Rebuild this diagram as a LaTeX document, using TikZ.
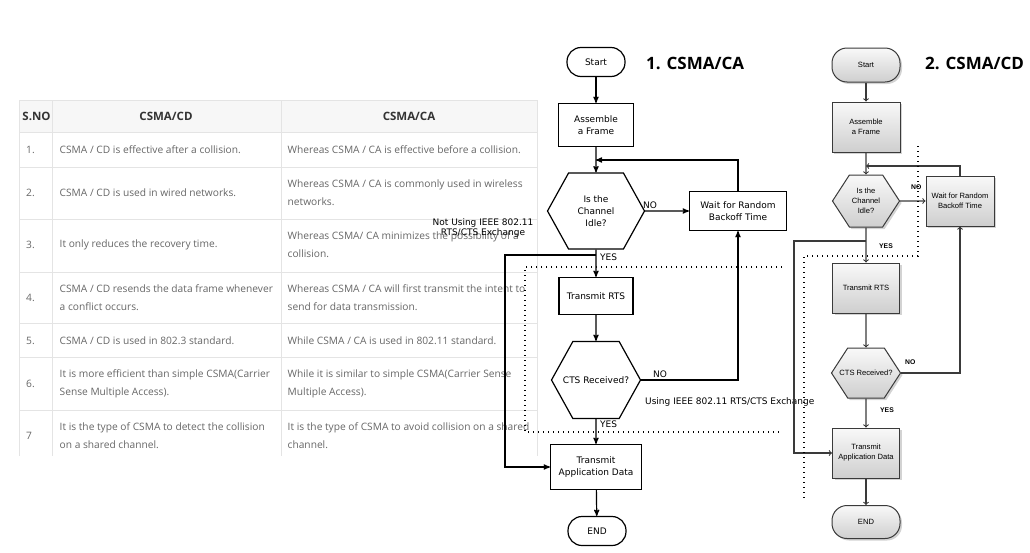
\documentclass[tikz,border=0pt]{standalone}
\usepackage{fontspec}
\setmainfont{Open Sans}
\newfontfamily\flowfont{DejaVu Sans}
\newfontfamily\cdfont{Liberation Sans}
\usetikzlibrary{arrows,shapes.symbols,shadows}

\definecolor{tabline}{HTML}{E4E4E4}
\definecolor{tabfill}{HTML}{F7F7F7}
\definecolor{tabtext}{HTML}{666666}
\definecolor{headtext}{HTML}{333333}
\definecolor{cdline}{HTML}{3A3A3A}

\tikzset{
  cell/.style={anchor=west, align=left, inner sep=0pt, text=tabtext, font=\fontsize{10.2}{18}\selectfont},
  headcell/.style={inner sep=0pt, text=headtext, font=\fontsize{11.5}{12}\selectfont\bfseries},
  title/.style={anchor=west, inner sep=0pt, font=\fontsize{17}{18}\selectfont\bfseries},
  cabox/.style={draw, line width=1.2pt, fill=white, align=center, inner sep=1pt, font=\flowfont\fontsize{9}{12}\selectfont},
  caterm/.style={cabox, rounded corners=14pt},
  cahex/.style={cabox, shape=signal, signal to=east and west, signal pointer angle=122},
  calabel/.style={inner sep=0pt, font=\flowfont\fontsize{9}{10}\selectfont},
  caline/.style={line width=1.2pt, -stealth'},
  cdbox/.style={draw=cdline, line width=1pt, top color=gray!5, bottom color=gray!38, drop shadow={shadow xshift=2pt, shadow yshift=-2pt, opacity=.35}, align=center, inner sep=1pt, font=\cdfont\fontsize{7.6}{10}\selectfont},
  cdterm/.style={cdbox, rounded corners=15pt},
  cdhex/.style={cdbox, shape=signal, signal to=east and west, signal pointer angle=114},
  cdlabel/.style={anchor=west, inner sep=0pt, font=\cdfont\fontsize{6.8}{8}\selectfont\bfseries},
  cdarrow/.style={draw=cdline, line width=1.1pt, ->},
  dotline/.style={line width=1.4pt, dash pattern=on 1.4pt off 3.6pt},
}

\begin{document}
\begin{tikzpicture}[x=1pt, y=-1pt]
\useasboundingbox (0,0) rectangle (1030,552);

% comparison table
\fill[tabfill] (19,100) rectangle (537,132);
\foreach \y in {100,132,167,219,272,323,357,410}
    \draw[tabline] (19,\y) -- (537,\y);
\foreach \x in {19,52,281,537}
    \draw[tabline] (\x,100) -- (\x,456);
\node[headcell] (hNo) at (36.5,116) {S.NO};
\node[headcell] (hCD) at (166,116) {CSMA/CD};
\node[headcell] (hCA) at (409,116) {CSMA/CA};
\foreach \r/\n/\y/\a/\b in {
    1/{1.}/149.5/{CSMA / CD is effective after a collision.}/{Whereas CSMA / CA is effective before a collision.},
    2/{2.}/193/{CSMA / CD is used in wired networks.}/{Whereas CSMA / CA is commonly used in wireless\\networks.},
    3/{3.}/244.5/{It only reduces the recovery time.}/{Whereas CSMA/ CA minimizes the possibility of a\\collision.},
    4/{4.}/297.5/{CSMA / CD resends the data frame whenever\\a conflict occurs.}/{Whereas CSMA / CA will first transmit the intent to\\send for data transmission.},
    5/{5.}/340.5/{CSMA / CD is used in 802.3 standard.}/{While CSMA / CA is used in 802.11 standard.},
    6/{6.}/384/{It is more efficient than simple CSMA(Carrier\\Sense Multiple Access).}/{While it is similar to simple CSMA(Carrier Sense\\Multiple Access).},
    7/{7}/435.5/{It is the type of CSMA to detect the collision\\on a shared channel.}/{It is the type of CSMA to avoid collision on a shared\\channel.}}
{
    \node[cell] (no\r) at (26,\y) {\n};
    \node[cell] (cd\r) at (59.5,\y) {\a};
    \node[cell] (ca\r) at (287.5,\y) {\b};
}

% 1. CSMA/CA
\node[title] (titleCA) at (646,63) {1. CSMA/CA};
\node[caterm, minimum width=58, minimum height=29] (startCA) at (596,62) {Start};
\node[cabox, minimum width=75, minimum height=43] (frameCA) at (596,125) {Assemble\\a Frame};
\node[cahex, minimum width=97, minimum height=76] (idleCA) at (596,211) {Is the\\Channel\\Idle?};
\node[cabox, minimum width=97, minimum height=39] (waitCA) at (738,211) {Wait for Random\\Backoff Time};
\node[cabox, minimum width=74, minimum height=37] (rtsCA) at (596,296) {Transmit RTS};
\node[cahex, minimum width=89, minimum height=77] (ctsCA) at (596,380) {\makebox[30pt]{CTS Received?}};
\node[cabox, minimum width=91, minimum height=45] (dataCA) at (596,467) {Transmit\\Application Data};
\node[caterm, minimum width=58, minimum height=29] (endCA) at (597,531) {END};
\coordinate (loopCA) at (596,160);
\coordinate (forkCA) at (596,255);

\draw[caline] (startCA) -- (frameCA);
\draw[caline] (frameCA) -- (idleCA);
\draw[caline] (waitCA) |- (loopCA);
\draw[caline] (idleCA) -- (waitCA);
\draw[caline] (idleCA) -- (rtsCA);
\draw[caline] (forkCA) -- ++(-91,0) |- (dataCA);
\draw[caline] (rtsCA) -- (ctsCA);
\draw[caline] (ctsCA) -| (waitCA);
\draw[caline] (ctsCA) -- (dataCA);
\draw[caline] (dataCA) -- (endCA);

\node[calabel, anchor=west] (noCA1) at (643,205) {NO};
\node[calabel, anchor=west] (yesCA1) at (600,257) {YES};
\node[calabel, anchor=west] (noCA2) at (653,374) {NO};
\node[calabel, anchor=west] (yesCA2) at (600,424) {YES};
\node[calabel, anchor=west] (usingRTS) at (645,402) {Using IEEE 802.11 RTS/CTS Exchange};
\node[calabel, align=center] (notRTS) at (483,228) {Not Using IEEE 802.11\\RTS/CTS Exchange};

\draw[dotline] (782,267) -- (525,267) -- (525,432) -- (782,432);

% 2. CSMA/CD
\node[title] (titleCD) at (925,63) {2. CSMA/CD};
\node[cdterm, minimum width=68, minimum height=34] (startCD) at (866,65) {Start};
\node[cdbox, minimum width=68, minimum height=50] (frameCD) at (866,127) {Assemble\\a Frame};
\node[cdhex, minimum width=67, minimum height=52] (idleCD) at (866,201) {Is the\\Channel\\Idle?};
\node[cdbox, minimum width=68, minimum height=50] (waitCD) at (960,201) {Wait for Random\\Backoff Time};
\node[cdbox, minimum width=67, minimum height=50] (rtsCD) at (866,288) {Transmit RTS};
\node[cdhex, minimum width=69, minimum height=50] (ctsCD) at (866,373) {\makebox[20pt]{CTS Received?}};
\node[cdbox, minimum width=67, minimum height=50] (dataCD) at (866,453) {Transmit\\Application Data};
\node[cdterm, minimum width=68, minimum height=33] (endCD) at (866,522) {END};
\coordinate (loopCD) at (866,166);
\coordinate (forkCD) at (866,241);

\draw[cdarrow] (startCD) -- (frameCD);
\draw[cdarrow] (frameCD) -- (idleCD);
\draw[cdarrow] (waitCD) |- (loopCD);
\draw[cdarrow] (idleCD) -- (waitCD);
\draw[cdarrow] (idleCD) -- (rtsCD);
\draw[cdarrow] (forkCD) -- ++(-72,0) |- (dataCD);
\draw[cdarrow] (rtsCD) -- (ctsCD);
\draw[cdarrow] (ctsCD) -| (waitCD);
\draw[cdarrow] (ctsCD) -- (dataCD);
\draw[cdarrow] (dataCD) -- (endCD);

\node[cdlabel] (noCD1) at (911,187) {NO};
\node[cdlabel] (yesCD1) at (879,246) {YES};
\node[cdlabel] (noCD2) at (905,362) {NO};
\node[cdlabel] (yesCD2) at (880,410) {YES};

\draw[dotline] (918,146) -- (918,256) -- (804,256) -- (804,500);
\end{tikzpicture}
\end{document}
